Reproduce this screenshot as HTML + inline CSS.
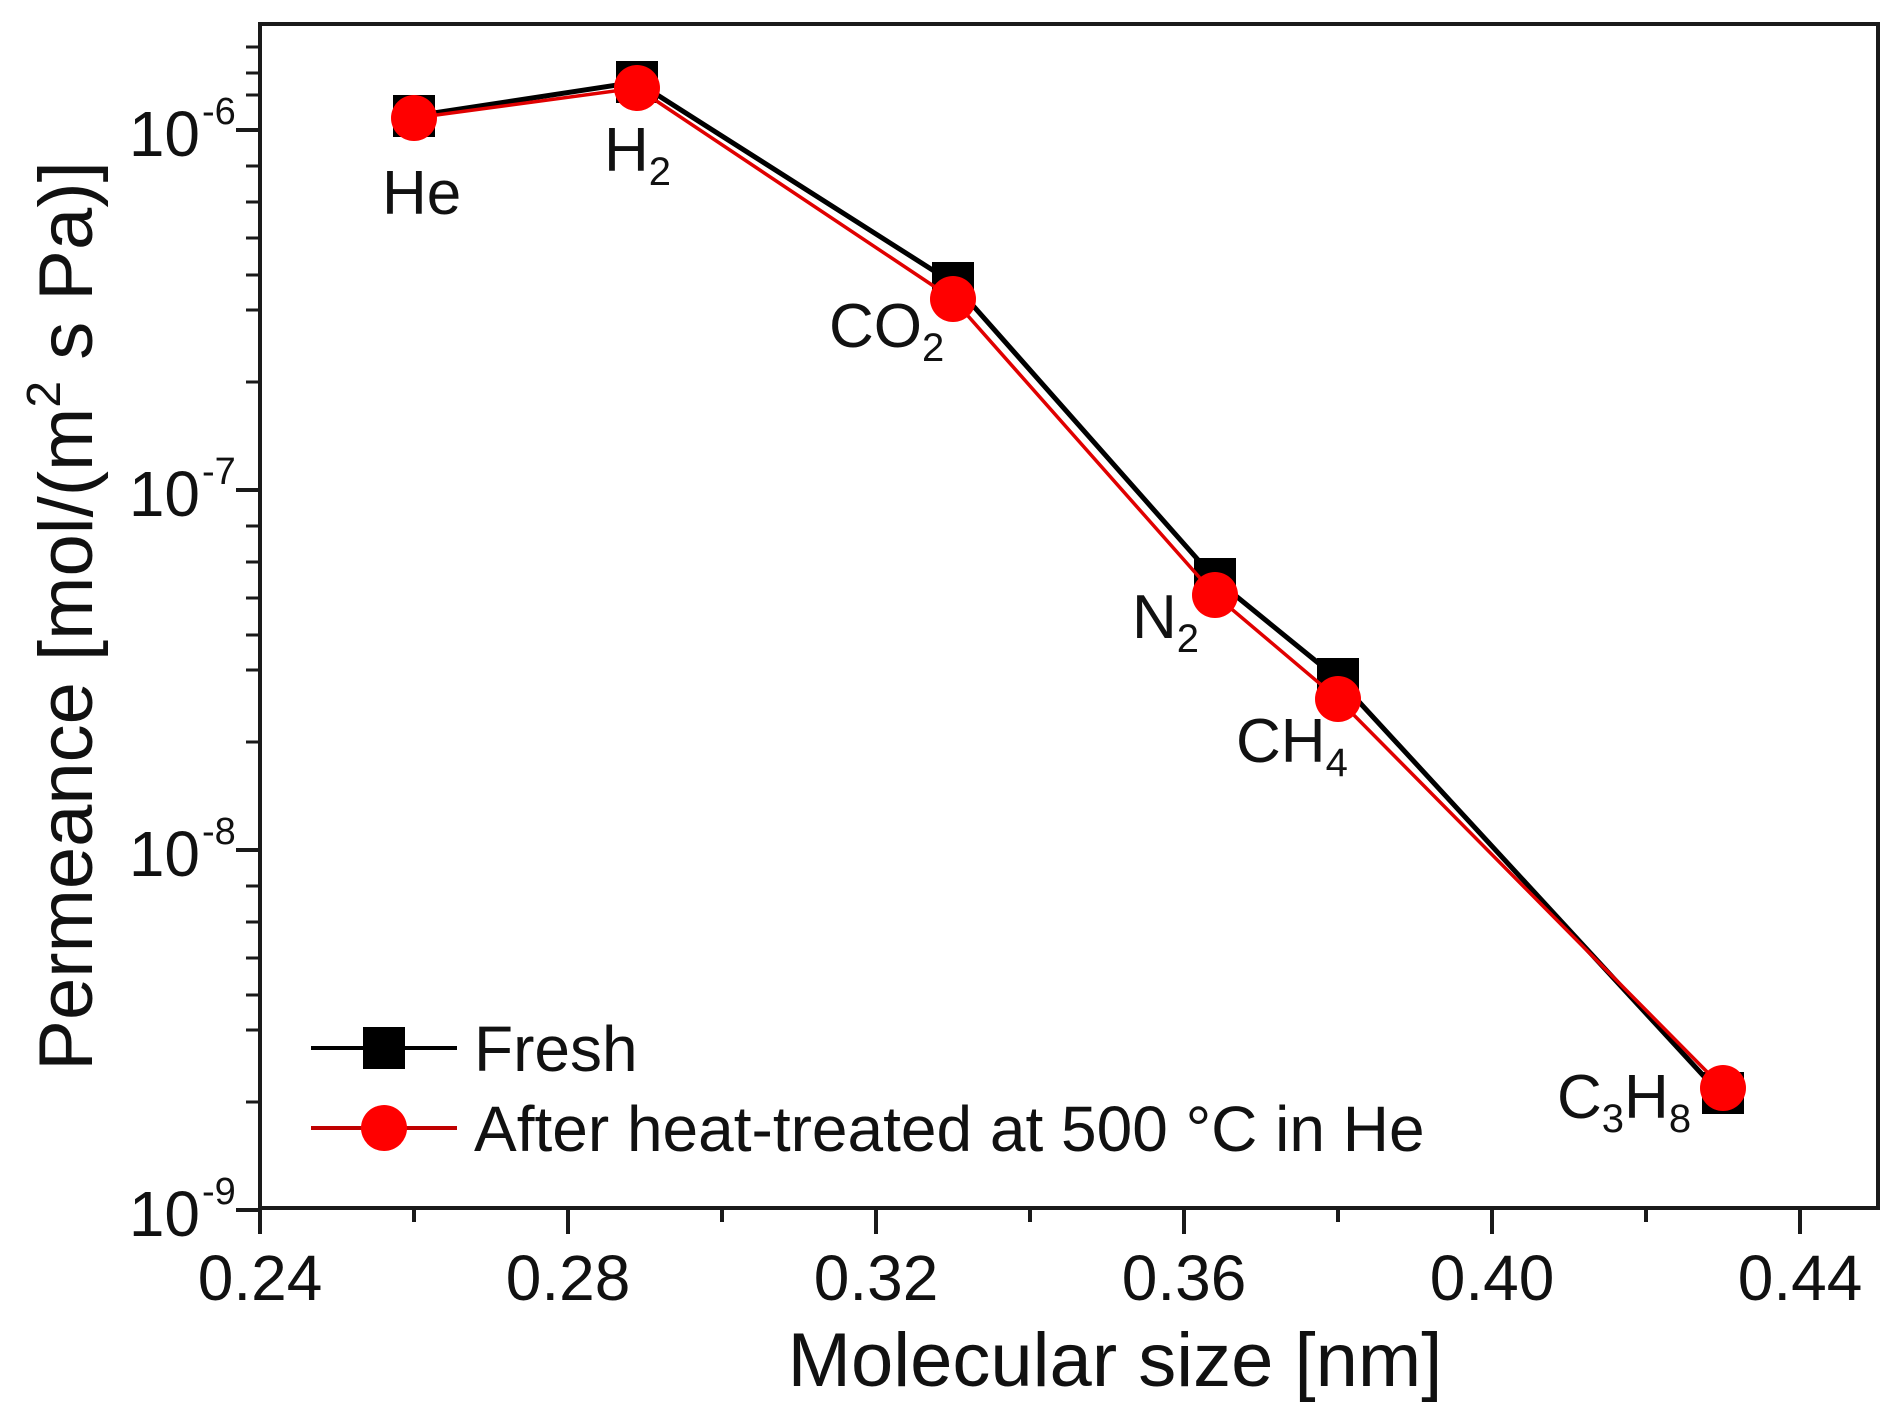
<!DOCTYPE html>
<html><head><meta charset="utf-8"><style>
html,body{margin:0;padding:0;background:#fff;}
svg{display:block;}
text{font-family:"Liberation Sans",sans-serif;fill:#111;}
</style></head><body>
<svg width="1902" height="1407" viewBox="0 0 1902 1407" xmlns="http://www.w3.org/2000/svg">
<rect x="0" y="0" width="1902" height="1407" fill="#fff"/>
<rect x="260" y="24" width="1618" height="1184" fill="none" stroke="#1a1a1a" stroke-width="4"/>
<g stroke="#1a1a1a" stroke-width="4">
<line x1="260" y1="1208" x2="260" y2="1234"/>
<line x1="568" y1="1208" x2="568" y2="1234"/>
<line x1="876" y1="1208" x2="876" y2="1234"/>
<line x1="1184" y1="1208" x2="1184" y2="1234"/>
<line x1="1492" y1="1208" x2="1492" y2="1234"/>
<line x1="1800" y1="1208" x2="1800" y2="1234"/>
<line x1="414" y1="1208" x2="414" y2="1222"/>
<line x1="722" y1="1208" x2="722" y2="1222"/>
<line x1="1030" y1="1208" x2="1030" y2="1222"/>
<line x1="1338" y1="1208" x2="1338" y2="1222"/>
<line x1="1646" y1="1208" x2="1646" y2="1222"/>
<line x1="236" y1="130" x2="260" y2="130"/>
<line x1="236" y1="490" x2="260" y2="490"/>
<line x1="236" y1="850" x2="260" y2="850"/>
<line x1="236" y1="1210" x2="260" y2="1210"/>
</g>
<g stroke="#1a1a1a" stroke-width="3">
<line x1="246" y1="95" x2="260" y2="95"/><line x1="246" y1="73" x2="260" y2="73"/><line x1="246" y1="47" x2="260" y2="47"/>
<line x1="246" y1="166" x2="260" y2="166"/><line x1="246" y1="202" x2="260" y2="202"/><line x1="246" y1="238" x2="260" y2="238"/><line x1="246" y1="275" x2="260" y2="275"/><line x1="246" y1="310" x2="260" y2="310"/><line x1="246" y1="382" x2="260" y2="382"/>
<line x1="246" y1="526" x2="260" y2="526"/><line x1="246" y1="562" x2="260" y2="562"/><line x1="246" y1="598" x2="260" y2="598"/><line x1="246" y1="635" x2="260" y2="635"/><line x1="246" y1="670" x2="260" y2="670"/><line x1="246" y1="742" x2="260" y2="742"/>
<line x1="246" y1="886" x2="260" y2="886"/><line x1="246" y1="922" x2="260" y2="922"/><line x1="246" y1="958" x2="260" y2="958"/><line x1="246" y1="995" x2="260" y2="995"/><line x1="246" y1="1030" x2="260" y2="1030"/><line x1="246" y1="1102" x2="260" y2="1102"/>
</g>
<g font-size="64" text-anchor="middle">
<text x="260" y="1300">0.24</text>
<text x="568" y="1300">0.28</text>
<text x="876" y="1300">0.32</text>
<text x="1184" y="1300">0.36</text>
<text x="1492" y="1300">0.40</text>
<text x="1800" y="1300">0.44</text>
</g>
<g font-size="64" text-anchor="end">
<text x="200" y="156">10</text><text x="202" y="124" font-size="38" text-anchor="start">-6</text>
<text x="200" y="516">10</text><text x="202" y="484" font-size="38" text-anchor="start">-7</text>
<text x="200" y="876">10</text><text x="202" y="844" font-size="38" text-anchor="start">-8</text>
<text x="200" y="1236">10</text><text x="202" y="1204" font-size="38" text-anchor="start">-9</text>
</g>
<text x="1115" y="1386" font-size="76" text-anchor="middle">Molecular size [nm]</text>
<text transform="translate(92,616) rotate(-90)" font-size="76" text-anchor="middle">Permeance [mol/(m<tspan font-size="48" dy="-32">2</tspan><tspan dy="32"> s Pa)]</tspan></text>
<polyline points="414,116 637,82 953,283 1215,579 1338,679 1723,1097" fill="none" stroke="#000" stroke-width="5"/>
<g fill="#000">
<rect x="393" y="95" width="42" height="42"/>
<rect x="616" y="61" width="42" height="42"/>
<rect x="932" y="262" width="42" height="42"/>
<rect x="1194" y="558" width="42" height="42"/>
<rect x="1317" y="658" width="42" height="42"/>
<rect x="1702" y="1072" width="42" height="42"/>
</g>
<polyline points="414,118 637,88 953,299 1215,595 1338,699 1723,1088" fill="none" stroke="#e00000" stroke-width="3.5"/>
<g fill="#ff0000">
<circle cx="414" cy="118" r="23"/>
<circle cx="637" cy="88" r="23"/>
<circle cx="953" cy="299" r="23"/>
<circle cx="1215" cy="595" r="23"/>
<circle cx="1338" cy="699" r="23"/>
<circle cx="1723" cy="1088" r="23"/>
</g>
<g font-size="62">
<text x="382" y="214">He</text>
<text x="604" y="171">H<tspan font-size="40" dy="14">2</tspan></text>
<text x="829" y="347">CO<tspan font-size="40" dy="14">2</tspan></text>
<text x="1132" y="638">N<tspan font-size="40" dy="14">2</tspan></text>
<text x="1236" y="762">CH<tspan font-size="40" dy="14">4</tspan></text>
<text x="1557" y="1118">C<tspan font-size="40" dy="14">3</tspan><tspan dy="-14">H</tspan><tspan font-size="40" dy="14">8</tspan></text>
</g>
<line x1="311" y1="1048" x2="457" y2="1048" stroke="#000" stroke-width="4"/>
<rect x="363" y="1027" width="42" height="42" fill="#000"/>
<text x="474" y="1071" font-size="64">Fresh</text>
<line x1="311" y1="1128" x2="457" y2="1128" stroke="#c00000" stroke-width="4"/>
<circle cx="384" cy="1128" r="23" fill="#ff0000"/>
<text x="474" y="1151" font-size="64">After heat-treated at 500 °C in He</text>
</svg>
</body></html>
